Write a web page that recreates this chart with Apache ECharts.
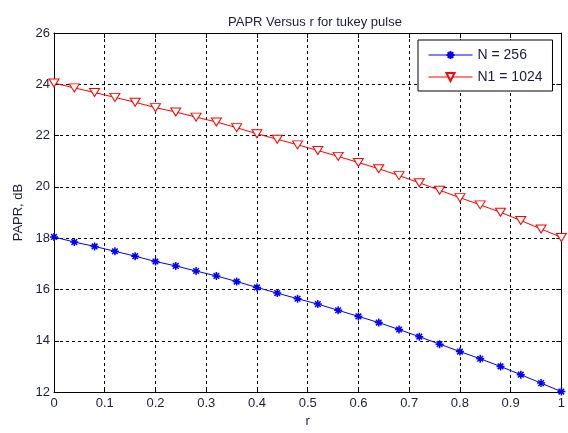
<!DOCTYPE html>
<html>
<head>
<meta charset="utf-8">
<script src="https://cdn.jsdelivr.net/npm/echarts@6/dist/echarts.min.js"></script>
<style>html,body{margin:0;padding:0;background:#fff}#c{width:568px;height:433px}</style>
</head>
<body>
<div id="c"></div>
<script>
var rValues = [0,0.04,0.08,0.12,0.16,0.2,0.24,0.28,0.32,0.36,0.4,0.44,0.48,0.52,0.56,0.6,0.64,0.68,0.72,0.76,0.8,0.84,0.88,0.92,0.96,1];
var papr256 = [18.05,17.85,17.68,17.49,17.30,17.09,16.92,16.72,16.53,16.31,16.08,15.86,15.64,15.43,15.19,14.95,14.71,14.44,14.16,13.87,13.58,13.30,13.00,12.68,12.35,12.02];
var papr1024 = [24.05,23.86,23.68,23.49,23.30,23.09,22.92,22.72,22.53,22.31,22.07,21.86,21.64,21.42,21.19,20.95,20.71,20.44,20.16,19.87,19.58,19.30,19.01,18.69,18.36,18.03];
var seriesNames = ['N = 256', 'N1 = 1024'];
var titleText = 'PAPR Versus r for tukey pulse';

function pairs(xs, ys){ return xs.map(function(x,i){ return [x, ys[i]]; }); }
var txt = '#1c1c40';
var font = 'Liberation Sans, Arial, sans-serif';
var chart = echarts.init(document.getElementById('c'));
chart.setOption({
  animation: false,
  backgroundColor: '#fff',
  title: { text: titleText, left: 310, textAlign: 'center', top: 11,
    textStyle: { fontSize: 13, fontWeight: 'normal', color: txt, fontFamily: font } },
  grid: { left: 54, right: 4, top: 33, bottom: 35 },
  legend: {
    left: 418, top: 40, orient: 'vertical',
    backgroundColor: '#fff', borderColor: '#000', borderWidth: 1,
    padding: [8, 10, 7, 10], itemGap: 8, itemWidth: 44, itemHeight: 10,
    lineStyle: { width: 1 },
    textStyle: { fontSize: 14, color: txt, fontFamily: font },
    data: seriesNames
  },
  xAxis: [{
    type: 'value', min: 0, max: 1, interval: 0.1, position: 'bottom',
    name: 'r', nameLocation: 'middle', nameGap: 15,
    nameTextStyle: { fontSize: 13, color: txt, fontFamily: font },
    axisLine: { show: true, onZero: false, lineStyle: { color: '#000' } },
    axisTick: { show: true, inside: true, length: 5, lineStyle: { color: '#000' } },
    axisLabel: { color: txt, fontSize: 13, fontFamily: font, margin: 5,
      formatter: function(v){ return String(Math.round(v*10)/10); } },
    splitLine: { show: true, lineStyle: { color: '#000', type: [3, 3], width: 1 } }
  }, {
    type: 'value', min: 0, max: 1, interval: 0.1, position: 'top',
    axisLine: { show: true, onZero: false, lineStyle: { color: '#000' } },
    axisTick: { show: true, inside: true, length: 5, lineStyle: { color: '#000' } },
    axisLabel: { show: false }, splitLine: { show: false }
  }],
  yAxis: [{
    type: 'value', min: 12, max: 26, interval: 2, position: 'left',
    name: 'PAPR, dB', nameLocation: 'middle', nameGap: 27, nameRotate: 90,
    nameTextStyle: { fontSize: 13, color: txt, fontFamily: font },
    axisLine: { show: true, onZero: false, lineStyle: { color: '#000' } },
    axisTick: { show: true, inside: true, length: 5, lineStyle: { color: '#000' } },
    axisLabel: { color: txt, fontSize: 13, fontFamily: font, margin: 4 },
    splitLine: { show: true, lineStyle: { color: '#000', type: [3, 3], width: 1 } }
  }, {
    type: 'value', min: 12, max: 26, interval: 2, position: 'right',
    axisLine: { show: true, onZero: false, lineStyle: { color: '#000' } },
    axisTick: { show: true, inside: true, length: 5, lineStyle: { color: '#000' } },
    axisLabel: { show: false }, splitLine: { show: false }
  }],
  series: [{
    name: seriesNames[0], type: 'line', xAxisIndex: 0, yAxisIndex: 0,
    data: pairs(rValues, papr256),
    symbol: 'path://M0,-5L0,5M-5,0L5,0M-3.5,-3.5L3.5,3.5M-3.5,3.5L3.5,-3.5',
    symbolSize: 8, showAllSymbol: true,
    lineStyle: { color: '#0000ff', width: 1 },
    itemStyle: { color: 'none', borderColor: '#0000ff', borderWidth: 1.5 }
  }, {
    name: seriesNames[1], type: 'line', xAxisIndex: 0, yAxisIndex: 0,
    data: pairs(rValues, papr1024),
    symbol: 'triangle', symbolRotate: 180, symbolSize: [10, 8], showAllSymbol: true,
    lineStyle: { color: '#ff0000', width: 1 },
    itemStyle: { color: '#fff', borderColor: '#ff0000', borderWidth: 1 }
  }]
});
</script>
</body>
</html>
